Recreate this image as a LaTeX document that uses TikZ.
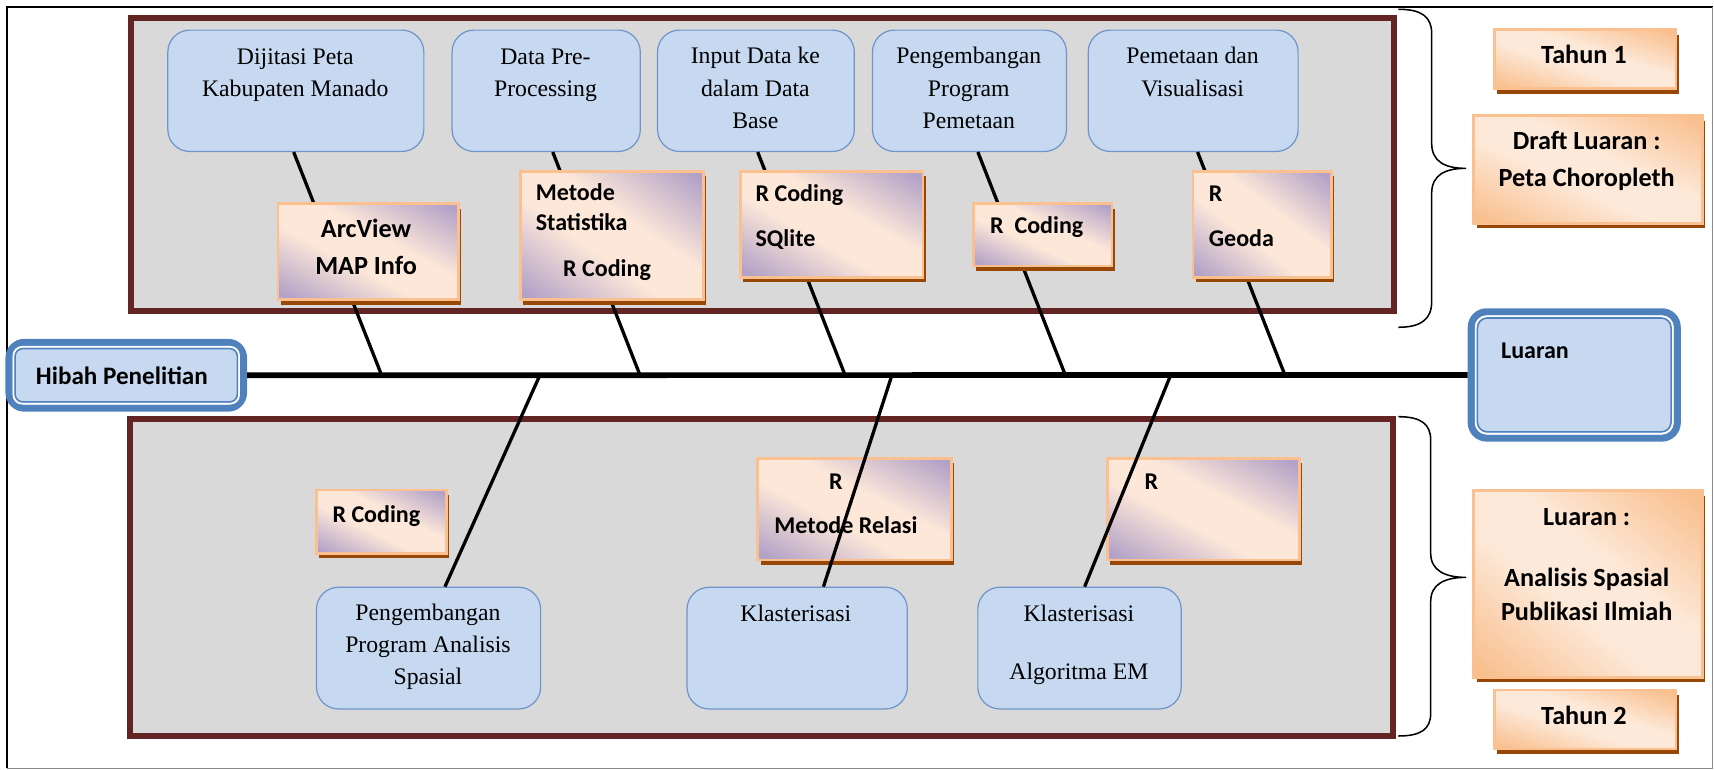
\documentclass[tikz,border=0pt]{standalone}
\usepackage{fontspec}
\setmainfont{Liberation Serif}
\setsansfont{Carlito}
\usetikzlibrary{shadows}
\definecolor{lightblue}{HTML}{C6D9F1}
\definecolor{blueborder}{HTML}{6F94C9}
\definecolor{dblue}{HTML}{4F81BD}
\definecolor{maroon}{HTML}{632523}
\definecolor{panelgray}{HTML}{D9D9D9}
\definecolor{lorange}{HTML}{FAC090}
\definecolor{sbrown}{HTML}{984806}
% diagonal gradients: lavender / orange at top-right and bottom-left corners, light band along the other diagonal
\pgfdeclarefunctionalshading{toolshade}{\pgfpoint{0bp}{0bp}}{\pgfpoint{100bp}{100bp}}{}{
  add 100 sub 50 div abs 0.22 sub 0.7 div
  dup 0 lt {pop 0} if dup 1 gt {pop 1} if
  dup dup
  -0.286 mul 0.988 add 3 1 roll
  -0.271 mul 0.906 add exch
  -0.071 mul 0.851 add
}
\pgfdeclarefunctionalshading{orangeshade}{\pgfpoint{0bp}{0bp}}{\pgfpoint{100bp}{100bp}}{}{
  add 100 sub 50 div abs 0.2 sub 0.75 div
  dup 0 lt {pop 0} if dup 1 gt {pop 1} if
  dup dup
  -0.016 mul 0.992 add 3 1 roll
  -0.169 mul 0.914 add exch
  -0.302 mul 0.851 add
}
\begin{document}
\begin{tikzpicture}[x=1pt,y=-1pt,
  serif/.style={font=\fontsize{21.7}{29.5}\selectfont\rmfamily, align=center, inner sep=0, anchor=base},
  boldtxt/.style={font=\fontsize{22}{27}\selectfont\sffamily\bfseries, inner sep=0, anchor=base west},
  bigbold/.style={font=\fontsize{24}{30}\selectfont\sffamily\bfseries, inner sep=0, anchor=base},
  stepbox/.style={draw=blueborder, fill=lightblue, line width=1.1, rounded corners=20, inner sep=0, anchor=north west},
  toolbox/.style={draw=lorange, line width=2.5, shading=toolshade,
    drop shadow={shadow xshift=2.5pt, shadow yshift=-4.5pt, fill=sbrown, opacity=1}, inner sep=0, anchor=north west},
  outbox/.style={draw=lorange, line width=2.5, shading=orangeshade,
    drop shadow={shadow xshift=2.5pt, shadow yshift=-4.5pt, fill=sbrown, opacity=1}, inner sep=0, anchor=north west},
  dblbox/.style={draw=dblue, fill=lightblue, line width=6.5, rounded corners=14, inner sep=0, anchor=north west},
  panel/.style={draw=maroon, fill=panelgray, line width=5.5},
  branch/.style={line width=3, black},
  spine/.style={line width=5.2, black},
  brace/.style={line width=1.4, black}]
\useasboundingbox (0,0) rectangle (1568,704);
% outer frame
\draw[black, line width=2] (6.4,703) -- (6.4,6.4) -- (1567,6.4);
\draw[black!45, line width=1] (1567,6.4) -- (1567,703) -- (6.4,703);
% panels
\draw[panel] (119.7,16.5) rectangle (1275.3,284.3);
\draw[panel] (118.8,383.4) rectangle (1274.3,673.2);
% braces
\draw[brace] (1279.2,8.5) .. controls (1300,8.5) and (1309.7,15) .. (1309.7,30.5) -- (1309.7,131)
  .. controls (1309.7,148) and (1322,154) .. (1341.1,154)
  .. controls (1322,154) and (1309.7,160) .. (1309.7,177) -- (1309.7,276)
  .. controls (1309.7,292) and (1300,299.4) .. (1279.2,299.4);
\draw[brace] (1279.2,381.2) .. controls (1300,381.2) and (1308.8,388) .. (1308.8,402.5) -- (1308.8,506)
  .. controls (1308.8,522) and (1322,528.2) .. (1341.1,528.2)
  .. controls (1322,528.2) and (1308.8,534) .. (1308.8,550.4) -- (1308.8,652.6)
  .. controls (1308.8,667) and (1300,673.3) .. (1279.2,673.3);
% spine points
\coordinate (s1) at (349,343);
\coordinate (s2) at (585.4,343);
\coordinate (s3) at (773,343);
\coordinate (s4) at (974.5,343);
\coordinate (s5) at (1175.4,343);
\coordinate (t1) at (494,343);
\coordinate (t2) at (816,343);
\coordinate (t3) at (1071,343);
% top step boxes
\node[stepbox, minimum width=234.2, minimum height=111] (d1) at (153,27) {};
\node[stepbox, minimum width=172.2, minimum height=111] (d2) at (413,27) {};
\node[stepbox, minimum width=180, minimum height=111] (d3) at (601,27) {};
\node[stepbox, minimum width=177.4, minimum height=111] (d4) at (797.6,27) {};
\node[stepbox, minimum width=192, minimum height=111] (d5) at (995,27) {};
% (base anchor = baseline of the last line)
\node[serif] (d1t) at (270.1,88.5) {Dijitasi Peta\\Kabupaten Manado};
\node[serif] (d2t) at (499,88.5) {Data Pre-\\Processing};
\node[serif] (d3t) at (691,117.5) {Input Data ke\\dalam Data\\Base};
\node[serif] (d4t) at (886.3,117.5) {Pengembangan\\Program\\Pemetaan};
\node[serif] (d5t) at (1091,88) {Pemetaan dan\\Visualisasi};
% top branches
\draw[branch] ([xshift=-2]d1.south) -- (s1);
\draw[branch] ([xshift=6]d2.south) -- (s2);
\draw[branch] ([xshift=1.6]d3.south) -- (s3);
\draw[branch] ([xshift=7.7]d4.south) -- (s4);
\draw[branch] ([xshift=4]d5.south) -- (s5);
% top tool boxes
\node[toolbox, minimum width=165, minimum height=88] (ta) at (253,185) {};
\node[toolbox, minimum width=167, minimum height=117.5] (tb) at (475,155.5) {};
\node[toolbox, minimum width=167, minimum height=97] (tc) at (676,155.5) {};
\node[toolbox, minimum width=127, minimum height=57] (td) at (889,185) {};
\node[toolbox, minimum width=126.5, minimum height=97] (te) at (1090,155.5) {};
\node[bigbold] (ta1) at (334.9,217) {ArcView};
\node[bigbold] (ta2) at (334.9,250.7) {MAP Info};
\node[boldtxt] (tb1) at (490,183.6) {Metode};
\node[boldtxt] (tb2) at (490,211) {Statistika};
\node[boldtxt] (tb3) at (515,252.5) {R Coding};
\node[boldtxt] (tc1) at (691,184.5) {R Coding};
\node[boldtxt] (tc2) at (691,225.7) {SQlite};
\node[boldtxt] (td1) at (905.6,213.4) {R\ \ Coding};
\node[boldtxt] (te1) at (1105.7,183.9) {R};
\node[boldtxt] (te2) at (1105.7,225.7) {Geoda};
% bottom tool boxes
\node[toolbox, minimum width=119, minimum height=58] (tf) at (288,447) {};
\node[toolbox, minimum width=177, minimum height=93] (tg) at (692,418) {};
\node[toolbox, minimum width=175.5, minimum height=93] (th) at (1012,418) {};
\node[boldtxt] (tf1) at (304,477.9) {R Coding};
\node[boldtxt, anchor=base] (tg1) at (764.6,447.7) {R};
\node[boldtxt, anchor=base] (tg2) at (773.9,488) {Metode Relasi};
\node[boldtxt, anchor=base] (th1) at (1053.3,447.7) {R};
% bottom step boxes
\node[stepbox, minimum width=205, minimum height=111.3] (b1) at (289,536.7) {};
\node[stepbox, minimum width=201.5, minimum height=111.3] (b2) at (628,536.7) {};
\node[stepbox, minimum width=186, minimum height=111.3] (b3) at (894,536.7) {};
\node[serif] (b1t) at (391.5,626.5) {Pengembangan\\Program Analisis\\Spasial};
\node[serif] (b2t) at (728,568.7) {Klasterisasi};
\node[serif] (b3t) at (987,568.7) {Klasterisasi};
\node[serif] (b3u) at (987,621.5) {Algoritma EM};
% bottom branches
\draw[branch] (t1) -- ([xshift=15]b1.north);
\draw[branch] (t2) -- ([xshift=24]b2.north);
\draw[branch] (t3) -- ([xshift=4.7]b3.north);
% head and tail
\node[dblbox, minimum width=214.5, minimum height=60.1] (hib) at (5,310) {};
\draw[white, line width=1.6, rounded corners=8] ([shift={(7.3,7.3)}]hib.north west) rectangle ([shift={(-7.3,-7.3)}]hib.south east);
\draw[dblue, line width=1.4, rounded corners=7] ([shift={(8.9,8.9)}]hib.north west) rectangle ([shift={(-8.9,-8.9)}]hib.south east);
\node[boldtxt, font=\fontsize{23}{27}\selectfont\sffamily\bfseries] (hibt) at (32.7,352.2) {Hibah Penelitian};
\node[dblbox, minimum width=188.4, minimum height=115.5] (lua) at (1342.7,282) {};
\draw[white, line width=1.6, rounded corners=10] ([shift={(7.3,7.3)}]lua.north west) rectangle ([shift={(-7.3,-7.3)}]lua.south east);
\draw[dblue, line width=1.4, rounded corners=9] ([shift={(8.9,8.9)}]lua.north west) rectangle ([shift={(-8.9,-8.9)}]lua.south east);
\node[boldtxt] (luat) at (1373,327.8) {Luaran};
\draw[spine] (hib.east) -- (lua.west);
% right outputs
\node[outbox, minimum width=166, minimum height=54] (y1) at (1366,26) {};
\node[outbox, minimum width=209, minimum height=98.4] (o1) at (1347,104.6) {};
\node[outbox, minimum width=209, minimum height=170.9] (o2) at (1347,447.6) {};
\node[outbox, minimum width=166, minimum height=54] (y2) at (1366,630) {};
\node[bigbold] (y1t) at (1449,57.9) {Tahun 1};
\node[bigbold] (o1a) at (1451.5,137.2) {Draft Luaran :};
\node[bigbold] (o1b) at (1451.5,170.8) {Peta Choropleth};
\node[bigbold] (o2a) at (1451.5,480.3) {Luaran :};
\node[bigbold] (o2b) at (1451.5,536.7) {Analisis Spasial};
\node[bigbold] (o2c) at (1451.5,567.2) {Publikasi Ilmiah};
\node[bigbold] (y2t) at (1449,662.4) {Tahun 2};
\end{tikzpicture}
\end{document}
